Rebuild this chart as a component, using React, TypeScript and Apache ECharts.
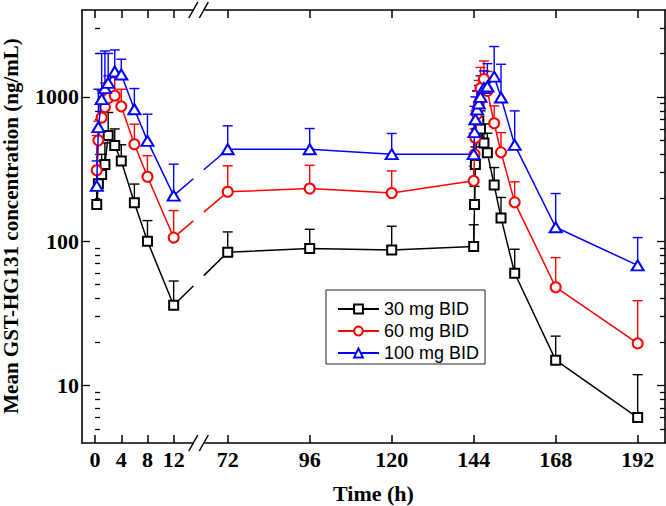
import React, { useEffect, useRef } from 'react';
import * as echarts from 'echarts';

// Sampling times (h)
const times = [0.25, 0.5, 1, 1.5, 2, 3, 4, 6, 8, 12, 72, 96, 120, 144, 144.25, 144.5, 145, 145.5, 146, 147, 148, 150, 152, 156, 168, 192];

// Mean concentrations (ng/mL) and upper error-bar ends (mean + SD)
const mean30 = [180, 250, 290, 340, 540, 460, 360, 185, 100, 36, 84, 89, 87, 92, 180, 340, 560, 680, 600, 480, 410, 245, 145, 60, 15, 6];
const upper30 = [230, 330, 400, 480, 780, 600, 466, 249, 139, 53, 116, 121, 127, 130, 240, 450, 760, 900, 800, 650, 560, 324, 201, 88, 22, 11.9];

const mean60 = [310, 500, 720, 850, 980, 1020, 860, 470, 280, 106, 220, 232, 216, 262, 400, 520, 760, 900, 1150, 1330, 1100, 657, 413, 186, 48, 19.6];
const upper60 = [540, 680, 1100, 1250, 1400, 1360, 1130, 647, 391, 163, 333, 336, 307, 330, 600, 800, 1100, 1300, 1600, 1774, 1500, 866, 566, 258, 77, 38.7];

const mean100 = [242, 617, 964, 1150, 1250, 1500, 1430, 821, 496, 207, 434, 434, 401, 401, 570, 700, 820, 900, 1000, 1150, 1180, 1380, 990, 465, 125, 68];
const upper100 = [360, 1130, 2000, 2080, 2000, 2114, 1824, 1143, 759, 342, 630, 604, 558, 560, 860, 1000, 1100, 1200, 1400, 1514, 1700, 2233, 1683, 800, 214, 106];

const seriesNames = ['30 mg BID', '60 mg BID', '100 mg BID'];
const seriesColors = ['#000000', '#ff0000', '#0000ff'];
const seriesSymbols = ['emptyRect', 'emptyCircle', 'emptyTriangle'];
const seriesSymbolSizes: any[] = [9, 10, [12, 10]];

const xTicksLeft = [0, 4, 8, 12];
const xTicksRight = [72, 96, 120, 144, 168, 192];
const yMajorTicks = [10, 100, 1000];
const yMinorTicks = [5, 6, 7, 8, 9, 20, 30, 40, 50, 60, 70, 80, 90, 200, 300, 400, 500, 600, 700, 800, 900, 2000, 3000];

const FONT = "'Liberation Serif', 'Times New Roman', serif";

export default function App() {
  const ref = useRef<HTMLDivElement>(null);
  useEffect(() => {
    if (!ref.current) return;
    const chart = echarts.init(ref.current, undefined, { renderer: 'svg' });

    const means = [mean30, mean60, mean100];
    const uppers = [upper30, upper60, upper100];

    const axisLine = { show: true, onZero: false, lineStyle: { color: '#000', width: 1.6 } };
    const tickLabel = { fontFamily: FONT, fontSize: 22, fontWeight: 'bold', color: '#000' };

    const makeX = (gridIndex: number, min: number, max: number, ticks: number[], pos: string, labels: boolean) => ({
      type: 'value', gridIndex, min, max, position: pos,
      axisLine,
      splitLine: { show: false },
      axisTick: { show: true, inside: true, length: 8, customValues: ticks, lineStyle: { color: '#000', width: 1.5 } },
      axisLabel: labels
        ? { show: true, customValues: ticks, margin: 5, ...tickLabel }
        : { show: false },
    });
    const makeY = (gridIndex: number, pos: string, major: boolean, labels: boolean) => ({
      type: 'log', logBase: 10, gridIndex, min: 4, max: 4000, position: pos,
      axisLine: major ? axisLine : { show: false },
      splitLine: { show: false },
      axisTick: {
        show: true, inside: true, length: major ? 8 : 5,
        customValues: major ? yMajorTicks : yMinorTicks,
        lineStyle: { color: '#000', width: 1.3 },
      },
      axisLabel: labels
        ? { show: true, customValues: yMajorTicks, margin: 3, formatter: (v: number) => String(Math.round(v)), ...tickLabel }
        : { show: false },
    });

    const series: any[] = [];
    const gridDefs = [
      { xi: 0, yi: 0, filter: (t: number) => t <= 12 },
      { xi: 2, yi: 2, filter: (t: number) => t >= 72 },
    ];
    gridDefs.forEach((g) => {
      means.forEach((m, i) => {
        series.push({
          type: 'custom',
          xAxisIndex: g.xi, yAxisIndex: g.yi,
          z: 1,
          silent: true,
          data: times.map((t, j) => [t, m[j], uppers[i][j]]).filter((d) => g.filter(d[0])),
          encode: { x: 0, y: [1, 2] },
          renderItem: (params: any, api: any) => {
            const t = api.value(0);
            const p0 = api.coord([t, api.value(1)]);
            const p1 = api.coord([t, api.value(2)]);
            const st = { stroke: seriesColors[i], lineWidth: 1.4 };
            return {
              type: 'group',
              children: [
                { type: 'line', shape: { x1: p0[0], y1: p0[1], x2: p1[0], y2: p1[1] }, style: st },
                { type: 'line', shape: { x1: p1[0] - 5, y1: p1[1], x2: p1[0] + 5, y2: p1[1] }, style: st },
              ],
            };
          },
        });
      });
    });
    gridDefs.forEach((g) => {
      means.forEach((m, i) => {
        series.push({
          type: 'line',
          name: seriesNames[i],
          xAxisIndex: g.xi, yAxisIndex: g.yi,
          z: 2 + i,
          clip: true,
          data: times.map((t, j) => [t, m[j]]).filter((d) => g.filter(d[0])),
          symbol: seriesSymbols[i],
          symbolSize: seriesSymbolSizes[i],
          showAllSymbol: true,
          color: seriesColors[i],
          lineStyle: { color: seriesColors[i], width: 1.5 },
          itemStyle: { color: seriesColors[i], borderColor: seriesColors[i], borderWidth: 1.2 },
        });
      });
    });

    const bx1 = 82 + 111.3;
    const bx2 = 203.8;
    const slash = (cx: number, cy: number) => ({
      type: 'line', z: 100,
      shape: { x1: cx - 4.5, y1: cy + 8, x2: cx + 4.5, y2: cy - 8 },
      style: { stroke: '#000', lineWidth: 1.5 },
    });

    const baseGraphics: any[] = [
      slash(bx1, 10), slash(bx2, 10), slash(bx1, 443), slash(bx2, 443),
      {
        type: 'text', x: 373.5, y: 493,
        style: { text: 'Time (h)', font: `bold 22px ${FONT}`, fill: '#000', textAlign: 'center', textVerticalAlign: 'middle' },
      },
      {
        type: 'text', x: 11, y: 226, rotation: Math.PI / 2,
        style: { text: 'Mean GST-HG131 concentration (ng/mL)', font: `bold 21px ${FONT}`, fill: '#000', textAlign: 'center', textVerticalAlign: 'middle' },
      },
    ];

    chart.setOption({
      animation: false,
      backgroundColor: '#fff',
      grid: [
        { left: 82, top: 10, width: 111.3, height: 433 },
        { left: bx2, top: 10, width: 461.2, height: 433 },
      ],
      xAxis: [
        makeX(0, -2, 15, xTicksLeft, 'bottom', true),
        makeX(0, -2, 15, xTicksLeft, 'top', false),
        makeX(1, 65, 200, xTicksRight, 'bottom', true),
        makeX(1, 65, 200, xTicksRight, 'top', false),
      ],
      yAxis: [
        makeY(0, 'left', true, true),
        makeY(0, 'left', false, false),
        makeY(1, 'right', true, false),
        makeY(1, 'right', false, false),
      ],
      legend: {
        data: seriesNames,
        orient: 'vertical',
        left: 326, top: 290,
        itemWidth: 41, itemHeight: 11, itemGap: 4,
        padding: [10, 6, 2, 11],
        backgroundColor: '#fff',
        borderColor: '#222', borderWidth: 1, borderRadius: 0,
        textStyle: { fontFamily: "'Liberation Sans', Arial, sans-serif", fontSize: 18, color: '#000' },
      },
      graphic: baseGraphics,
      series,
    });

    // Connector lines across the axis break (12 h -> 72 h), interrupted in the break gap
    const i12 = times.indexOf(12);
    const i72 = times.indexOf(72);
    const connectors: any[] = [];
    means.forEach((m, i) => {
      const a = chart.convertToPixel({ xAxisIndex: 0, yAxisIndex: 0 } as any, [12, m[i12]]) as any;
      const b = chart.convertToPixel({ xAxisIndex: 2, yAxisIndex: 2 } as any, [72, m[i72]]) as any;
      if (!a || !b) return;
      const yAt = (x: number) => a[1] + (b[1] - a[1]) * (x - a[0]) / (b[0] - a[0]);
      const st = { stroke: seriesColors[i], lineWidth: 1.5 };
      connectors.push({ type: 'line', z: 1, silent: true, shape: { x1: a[0], y1: a[1], x2: bx1, y2: yAt(bx1) }, style: st });
      connectors.push({ type: 'line', z: 1, silent: true, shape: { x1: bx2, y1: yAt(bx2), x2: b[0], y2: b[1] }, style: st });
    });
    chart.setOption({ graphic: [...baseGraphics, ...connectors] });

    return () => chart.dispose();
  }, []);
  return <div ref={ref} style={{ position: 'absolute', left: 0, top: 0, width: 666, height: 506 }} />;
}
